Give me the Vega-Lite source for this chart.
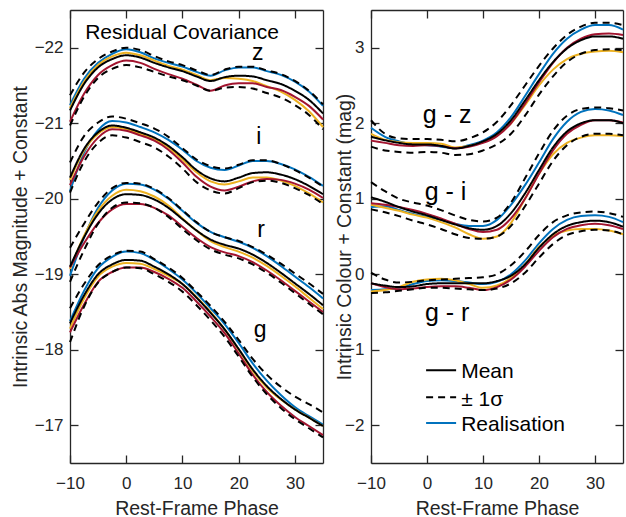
{
  "$schema": "https://vega.github.io/schema/vega-lite/v6.json",
  "padding": {"left": 10, "top": 9, "right": 0, "bottom": 0},
  "datasets": {
    "L": [
      {"band":"z","phase":-10,"mean":-21.17,"up":-21.37,"lo":-20.97,"blue":-21.24,"yellow":-21.20,"red":-21.02},
      {"band":"z","phase":-7.5,"mean":-21.52,"up":-21.67,"lo":-21.35,"blue":-21.59,"yellow":-21.55,"red":-21.39},
      {"band":"z","phase":-5,"mean":-21.74,"up":-21.85,"lo":-21.60,"blue":-21.80,"yellow":-21.77,"red":-21.64},
      {"band":"z","phase":-2.5,"mean":-21.85,"up":-21.95,"lo":-21.72,"blue":-21.92,"yellow":-21.885,"red":-21.77},
      {"band":"z","phase":0,"mean":-21.90,"up":-22.00,"lo":-21.77,"blue":-21.98,"yellow":-21.935,"red":-21.83},
      {"band":"z","phase":2.5,"mean":-21.87,"up":-21.97,"lo":-21.74,"blue":-21.94,"yellow":-21.90,"red":-21.80},
      {"band":"z","phase":5,"mean":-21.80,"up":-21.89,"lo":-21.68,"blue":-21.86,"yellow":-21.83,"red":-21.72},
      {"band":"z","phase":7.5,"mean":-21.74,"up":-21.82,"lo":-21.62,"blue":-21.80,"yellow":-21.76,"red":-21.65},
      {"band":"z","phase":10,"mean":-21.69,"up":-21.77,"lo":-21.57,"blue":-21.75,"yellow":-21.71,"red":-21.59},
      {"band":"z","phase":12.5,"mean":-21.62,"up":-21.70,"lo":-21.50,"blue":-21.68,"yellow":-21.64,"red":-21.51},
      {"band":"z","phase":15,"mean":-21.56,"up":-21.64,"lo":-21.43,"blue":-21.63,"yellow":-21.57,"red":-21.43},
      {"band":"z","phase":17.5,"mean":-21.61,"up":-21.71,"lo":-21.47,"blue":-21.70,"yellow":-21.60,"red":-21.50},
      {"band":"z","phase":20,"mean":-21.63,"up":-21.75,"lo":-21.48,"blue":-21.74,"yellow":-21.59,"red":-21.53},
      {"band":"z","phase":22.5,"mean":-21.62,"up":-21.75,"lo":-21.46,"blue":-21.74,"yellow":-21.56,"red":-21.53},
      {"band":"z","phase":25,"mean":-21.57,"up":-21.70,"lo":-21.40,"blue":-21.69,"yellow":-21.49,"red":-21.48},
      {"band":"z","phase":27.5,"mean":-21.52,"up":-21.65,"lo":-21.34,"blue":-21.64,"yellow":-21.42,"red":-21.44},
      {"band":"z","phase":30,"mean":-21.43,"up":-21.56,"lo":-21.24,"blue":-21.55,"yellow":-21.31,"red":-21.35},
      {"band":"z","phase":32.5,"mean":-21.31,"up":-21.43,"lo":-21.11,"blue":-21.42,"yellow":-21.16,"red":-21.23},
      {"band":"z","phase":35,"mean":-21.13,"up":-21.25,"lo":-20.92,"blue":-21.23,"yellow":-20.95,"red":-21.05},

      {"band":"i","phase":-10,"mean":-20.28,"up":-20.48,"lo":-20.08,"blue":-20.10,"yellow":-20.25,"red":-20.18},
      {"band":"i","phase":-7.5,"mean":-20.66,"up":-20.83,"lo":-20.49,"blue":-20.61,"yellow":-20.64,"red":-20.56},
      {"band":"i","phase":-5,"mean":-20.88,"up":-21.01,"lo":-20.74,"blue":-20.91,"yellow":-20.86,"red":-20.81},
      {"band":"i","phase":-2.5,"mean":-20.97,"up":-21.09,"lo":-20.84,"blue":-21.03,"yellow":-20.95,"red":-20.92},
      {"band":"i","phase":0,"mean":-20.94,"up":-21.06,"lo":-20.81,"blue":-21.01,"yellow":-20.92,"red":-20.90},
      {"band":"i","phase":2.5,"mean":-20.88,"up":-21.00,"lo":-20.75,"blue":-20.95,"yellow":-20.86,"red":-20.84},
      {"band":"i","phase":5,"mean":-20.81,"up":-20.93,"lo":-20.68,"blue":-20.88,"yellow":-20.79,"red":-20.77},
      {"band":"i","phase":7.5,"mean":-20.70,"up":-20.82,"lo":-20.56,"blue":-20.78,"yellow":-20.68,"red":-20.65},
      {"band":"i","phase":10,"mean":-20.55,"up":-20.67,"lo":-20.40,"blue":-20.65,"yellow":-20.52,"red":-20.48},
      {"band":"i","phase":12.5,"mean":-20.38,"up":-20.52,"lo":-20.22,"blue":-20.50,"yellow":-20.35,"red":-20.29},
      {"band":"i","phase":15,"mean":-20.27,"up":-20.43,"lo":-20.11,"blue":-20.41,"yellow":-20.23,"red":-20.16},
      {"band":"i","phase":17.5,"mean":-20.23,"up":-20.40,"lo":-20.07,"blue":-20.38,"yellow":-20.19,"red":-20.11},
      {"band":"i","phase":20,"mean":-20.28,"up":-20.45,"lo":-20.14,"blue":-20.44,"yellow":-20.23,"red":-20.16},
      {"band":"i","phase":22.5,"mean":-20.34,"up":-20.51,"lo":-20.22,"blue":-20.50,"yellow":-20.28,"red":-20.23},
      {"band":"i","phase":25,"mean":-20.35,"up":-20.51,"lo":-20.24,"blue":-20.50,"yellow":-20.28,"red":-20.26},
      {"band":"i","phase":27.5,"mean":-20.32,"up":-20.46,"lo":-20.21,"blue":-20.46,"yellow":-20.24,"red":-20.25},
      {"band":"i","phase":30,"mean":-20.26,"up":-20.38,"lo":-20.14,"blue":-20.39,"yellow":-20.17,"red":-20.20},
      {"band":"i","phase":32.5,"mean":-20.17,"up":-20.28,"lo":-20.05,"blue":-20.29,"yellow":-20.07,"red":-20.12},
      {"band":"i","phase":35,"mean":-20.06,"up":-20.16,"lo":-19.93,"blue":-20.17,"yellow":-19.95,"red":-20.01},

      {"band":"r","phase":-10,"mean":-19.10,"up":-19.35,"lo":-18.90,"blue":-18.98,"yellow":-19.07,"red":-19.09},
      {"band":"r","phase":-7.5,"mean":-19.49,"up":-19.67,"lo":-19.32,"blue":-19.49,"yellow":-19.51,"red":-19.41},
      {"band":"r","phase":-5,"mean":-19.80,"up":-19.95,"lo":-19.67,"blue":-19.88,"yellow":-19.84,"red":-19.68},
      {"band":"r","phase":-2.5,"mean":-19.99,"up":-20.14,"lo":-19.88,"blue":-20.11,"yellow":-20.04,"red":-19.86},
      {"band":"r","phase":0,"mean":-20.06,"up":-20.21,"lo":-19.95,"blue":-20.20,"yellow":-20.12,"red":-19.93},
      {"band":"r","phase":2.5,"mean":-20.05,"up":-20.20,"lo":-19.94,"blue":-20.19,"yellow":-20.10,"red":-19.93},
      {"band":"r","phase":5,"mean":-19.99,"up":-20.13,"lo":-19.88,"blue":-20.12,"yellow":-20.03,"red":-19.88},
      {"band":"r","phase":7.5,"mean":-19.88,"up":-20.01,"lo":-19.76,"blue":-20.00,"yellow":-19.91,"red":-19.78},
      {"band":"r","phase":10,"mean":-19.73,"up":-19.85,"lo":-19.60,"blue":-19.84,"yellow":-19.74,"red":-19.63},
      {"band":"r","phase":12.5,"mean":-19.58,"up":-19.69,"lo":-19.45,"blue":-19.68,"yellow":-19.58,"red":-19.48},
      {"band":"r","phase":15,"mean":-19.46,"up":-19.56,"lo":-19.33,"blue":-19.56,"yellow":-19.44,"red":-19.36},
      {"band":"r","phase":17.5,"mean":-19.39,"up":-19.49,"lo":-19.26,"blue":-19.49,"yellow":-19.36,"red":-19.29},
      {"band":"r","phase":20,"mean":-19.34,"up":-19.44,"lo":-19.21,"blue":-19.43,"yellow":-19.30,"red":-19.24},
      {"band":"r","phase":22.5,"mean":-19.26,"up":-19.36,"lo":-19.13,"blue":-19.35,"yellow":-19.22,"red":-19.16},
      {"band":"r","phase":25,"mean":-19.15,"up":-19.26,"lo":-19.02,"blue":-19.24,"yellow":-19.11,"red":-19.05},
      {"band":"r","phase":27.5,"mean":-19.02,"up":-19.14,"lo":-18.89,"blue":-19.11,"yellow":-18.98,"red":-18.92},
      {"band":"r","phase":30,"mean":-18.88,"up":-19.01,"lo":-18.75,"blue":-18.97,"yellow":-18.84,"red":-18.78},
      {"band":"r","phase":32.5,"mean":-18.74,"up":-18.88,"lo":-18.61,"blue":-18.83,"yellow":-18.69,"red":-18.64},
      {"band":"r","phase":35,"mean":-18.59,"up":-18.74,"lo":-18.47,"blue":-18.68,"yellow":-18.54,"red":-18.50},

      {"band":"g","phase":-10,"mean":-18.35,"up":-18.55,"lo":-18.10,"blue":-18.38,"yellow":-18.28,"red":-18.23},
      {"band":"g","phase":-7.5,"mean":-18.72,"up":-18.87,"lo":-18.57,"blue":-18.78,"yellow":-18.68,"red":-18.60},
      {"band":"g","phase":-5,"mean":-19.00,"up":-19.12,"lo":-18.89,"blue":-19.08,"yellow":-18.97,"red":-18.90},
      {"band":"g","phase":-2.5,"mean":-19.13,"up":-19.25,"lo":-19.03,"blue":-19.23,"yellow":-19.10,"red":-19.03},
      {"band":"g","phase":0,"mean":-19.19,"up":-19.31,"lo":-19.09,"blue":-19.30,"yellow":-19.15,"red":-19.09},
      {"band":"g","phase":2.5,"mean":-19.18,"up":-19.30,"lo":-19.08,"blue":-19.28,"yellow":-19.14,"red":-19.09},
      {"band":"g","phase":5,"mean":-19.10,"up":-19.20,"lo":-19.00,"blue":-19.19,"yellow":-19.07,"red":-19.03},
      {"band":"g","phase":7.5,"mean":-19.00,"up":-19.09,"lo":-18.90,"blue":-19.07,"yellow":-18.98,"red":-18.94},
      {"band":"g","phase":10,"mean":-18.87,"up":-18.95,"lo":-18.77,"blue":-18.93,"yellow":-18.87,"red":-18.82},
      {"band":"g","phase":12.5,"mean":-18.69,"up":-18.77,"lo":-18.59,"blue":-18.75,"yellow":-18.70,"red":-18.64},
      {"band":"g","phase":15,"mean":-18.49,"up":-18.58,"lo":-18.39,"blue":-18.55,"yellow":-18.50,"red":-18.44},
      {"band":"g","phase":17.5,"mean":-18.27,"up":-18.37,"lo":-18.17,"blue":-18.34,"yellow":-18.27,"red":-18.22},
      {"band":"g","phase":20,"mean":-18.01,"up":-18.13,"lo":-17.91,"blue":-18.09,"yellow":-18.00,"red":-17.95},
      {"band":"g","phase":22.5,"mean":-17.74,"up":-17.88,"lo":-17.64,"blue":-17.82,"yellow":-17.72,"red":-17.67},
      {"band":"g","phase":25,"mean":-17.52,"up":-17.67,"lo":-17.41,"blue":-17.59,"yellow":-17.50,"red":-17.44},
      {"band":"g","phase":27.5,"mean":-17.35,"up":-17.51,"lo":-17.23,"blue":-17.40,"yellow":-17.34,"red":-17.26},
      {"band":"g","phase":30,"mean":-17.21,"up":-17.38,"lo":-17.08,"blue":-17.24,"yellow":-17.21,"red":-17.11},
      {"band":"g","phase":32.5,"mean":-17.10,"up":-17.28,"lo":-16.96,"blue":-17.12,"yellow":-17.10,"red":-16.99},
      {"band":"g","phase":35,"mean":-16.99,"up":-17.17,"lo":-16.84,"blue":-17.01,"yellow":-16.99,"red":-16.87}
    ],
    "R": [
      {"band":"gz","phase":-10,"mean":1.82,"up":2.04,"lo":1.69,"blue":1.94,"yellow":1.86,"red":1.77},
      {"band":"gz","phase":-7.5,"mean":1.775,"up":1.86,"lo":1.64,"blue":1.82,"yellow":1.78,"red":1.74},
      {"band":"gz","phase":-5,"mean":1.74,"up":1.80,"lo":1.62,"blue":1.76,"yellow":1.75,"red":1.71},
      {"band":"gz","phase":-2.5,"mean":1.72,"up":1.79,"lo":1.61,"blue":1.72,"yellow":1.74,"red":1.70},
      {"band":"gz","phase":0,"mean":1.72,"up":1.79,"lo":1.62,"blue":1.71,"yellow":1.74,"red":1.71},
      {"band":"gz","phase":2.5,"mean":1.70,"up":1.78,"lo":1.61,"blue":1.69,"yellow":1.73,"red":1.70},
      {"band":"gz","phase":5,"mean":1.665,"up":1.76,"lo":1.58,"blue":1.67,"yellow":1.68,"red":1.67},
      {"band":"gz","phase":7.5,"mean":1.70,"up":1.80,"lo":1.59,"blue":1.71,"yellow":1.70,"red":1.69},
      {"band":"gz","phase":10,"mean":1.76,"up":1.88,"lo":1.64,"blue":1.77,"yellow":1.75,"red":1.74},
      {"band":"gz","phase":12.5,"mean":1.86,"up":2.02,"lo":1.72,"blue":1.88,"yellow":1.84,"red":1.83},
      {"band":"gz","phase":15,"mean":2.04,"up":2.24,"lo":1.86,"blue":2.08,"yellow":2.00,"red":2.00},
      {"band":"gz","phase":17.5,"mean":2.30,"up":2.50,"lo":2.10,"blue":2.36,"yellow":2.24,"red":2.26},
      {"band":"gz","phase":20,"mean":2.57,"up":2.76,"lo":2.38,"blue":2.65,"yellow":2.50,"red":2.54},
      {"band":"gz","phase":22.5,"mean":2.81,"up":2.99,"lo":2.62,"blue":2.92,"yellow":2.71,"red":2.80},
      {"band":"gz","phase":25,"mean":2.99,"up":3.17,"lo":2.81,"blue":3.12,"yellow":2.85,"red":3.00},
      {"band":"gz","phase":27.5,"mean":3.10,"up":3.28,"lo":2.92,"blue":3.24,"yellow":2.92,"red":3.12},
      {"band":"gz","phase":30,"mean":3.15,"up":3.33,"lo":2.97,"blue":3.30,"yellow":2.95,"red":3.18},
      {"band":"gz","phase":32.5,"mean":3.15,"up":3.33,"lo":2.98,"blue":3.30,"yellow":2.96,"red":3.19},
      {"band":"gz","phase":35,"mean":3.12,"up":3.30,"lo":2.97,"blue":3.24,"yellow":2.94,"red":3.17},

      {"band":"gi","phase":-10,"mean":1.02,"up":1.22,"lo":0.86,"blue":0.89,"yellow":0.92,"red":0.94},
      {"band":"gi","phase":-7.5,"mean":0.96,"up":1.10,"lo":0.82,"blue":0.90,"yellow":0.88,"red":0.92},
      {"band":"gi","phase":-5,"mean":0.89,"up":1.00,"lo":0.77,"blue":0.85,"yellow":0.84,"red":0.89},
      {"band":"gi","phase":-2.5,"mean":0.83,"up":0.95,"lo":0.71,"blue":0.80,"yellow":0.79,"red":0.85},
      {"band":"gi","phase":0,"mean":0.78,"up":0.91,"lo":0.66,"blue":0.76,"yellow":0.75,"red":0.80},
      {"band":"gi","phase":2.5,"mean":0.72,"up":0.85,"lo":0.60,"blue":0.72,"yellow":0.69,"red":0.74},
      {"band":"gi","phase":5,"mean":0.66,"up":0.78,"lo":0.53,"blue":0.67,"yellow":0.62,"red":0.67},
      {"band":"gi","phase":7.5,"mean":0.61,"up":0.72,"lo":0.48,"blue":0.64,"yellow":0.53,"red":0.60},
      {"band":"gi","phase":10,"mean":0.59,"up":0.70,"lo":0.47,"blue":0.64,"yellow":0.47,"red":0.56},
      {"band":"gi","phase":12.5,"mean":0.64,"up":0.75,"lo":0.50,"blue":0.72,"yellow":0.50,"red":0.59},
      {"band":"gi","phase":15,"mean":0.81,"up":0.95,"lo":0.64,"blue":0.92,"yellow":0.68,"red":0.74},
      {"band":"gi","phase":17.5,"mean":1.07,"up":1.27,"lo":0.90,"blue":1.18,"yellow":1.00,"red":1.00},
      {"band":"gi","phase":20,"mean":1.38,"up":1.60,"lo":1.20,"blue":1.48,"yellow":1.33,"red":1.33},
      {"band":"gi","phase":22.5,"mean":1.68,"up":1.90,"lo":1.50,"blue":1.79,"yellow":1.59,"red":1.64},
      {"band":"gi","phase":25,"mean":1.89,"up":2.10,"lo":1.71,"blue":2.02,"yellow":1.74,"red":1.86},
      {"band":"gi","phase":27.5,"mean":2.00,"up":2.19,"lo":1.82,"blue":2.15,"yellow":1.81,"red":1.98},
      {"band":"gi","phase":30,"mean":2.04,"up":2.21,"lo":1.86,"blue":2.19,"yellow":1.84,"red":2.04},
      {"band":"gi","phase":32.5,"mean":2.04,"up":2.20,"lo":1.86,"blue":2.17,"yellow":1.84,"red":2.04},
      {"band":"gi","phase":35,"mean":2.00,"up":2.17,"lo":1.84,"blue":2.11,"yellow":1.83,"red":2.01},

      {"band":"gr","phase":-10,"mean":-0.12,"up":0.02,"lo":-0.25,"blue":-0.21,"yellow":-0.23,"red":-0.12},
      {"band":"gr","phase":-7.5,"mean":-0.15,"up":-0.07,"lo":-0.24,"blue":-0.20,"yellow":-0.21,"red":-0.17},
      {"band":"gr","phase":-5,"mean":-0.17,"up":-0.11,"lo":-0.22,"blue":-0.18,"yellow":-0.17,"red":-0.20},
      {"band":"gr","phase":-2.5,"mean":-0.16,"up":-0.10,"lo":-0.20,"blue":-0.13,"yellow":-0.10,"red":-0.19},
      {"band":"gr","phase":0,"mean":-0.13,"up":-0.08,"lo":-0.18,"blue":-0.09,"yellow":-0.07,"red":-0.17},
      {"band":"gr","phase":2.5,"mean":-0.12,"up":-0.07,"lo":-0.18,"blue":-0.08,"yellow":-0.06,"red":-0.16},
      {"band":"gr","phase":5,"mean":-0.12,"up":-0.06,"lo":-0.19,"blue":-0.09,"yellow":-0.08,"red":-0.16},
      {"band":"gr","phase":7.5,"mean":-0.12,"up":-0.05,"lo":-0.20,"blue":-0.11,"yellow":-0.13,"red":-0.18},
      {"band":"gr","phase":10,"mean":-0.12,"up":-0.04,"lo":-0.21,"blue":-0.13,"yellow":-0.18,"red":-0.21},
      {"band":"gr","phase":12.5,"mean":-0.09,"up":0.00,"lo":-0.19,"blue":-0.10,"yellow":-0.15,"red":-0.17},
      {"band":"gr","phase":15,"mean":-0.02,"up":0.12,"lo":-0.12,"blue":0.00,"yellow":-0.05,"red":-0.07},
      {"band":"gr","phase":17.5,"mean":0.13,"up":0.30,"lo":0.02,"blue":0.18,"yellow":0.13,"red":0.10},
      {"band":"gr","phase":20,"mean":0.35,"up":0.52,"lo":0.22,"blue":0.41,"yellow":0.36,"red":0.31},
      {"band":"gr","phase":22.5,"mean":0.53,"up":0.69,"lo":0.40,"blue":0.60,"yellow":0.51,"red":0.49},
      {"band":"gr","phase":25,"mean":0.64,"up":0.78,"lo":0.52,"blue":0.72,"yellow":0.58,"red":0.60},
      {"band":"gr","phase":27.5,"mean":0.69,"up":0.82,"lo":0.57,"blue":0.77,"yellow":0.60,"red":0.65},
      {"band":"gr","phase":30,"mean":0.71,"up":0.83,"lo":0.59,"blue":0.78,"yellow":0.60,"red":0.67},
      {"band":"gr","phase":32.5,"mean":0.69,"up":0.81,"lo":0.58,"blue":0.76,"yellow":0.58,"red":0.65},
      {"band":"gr","phase":35,"mean":0.63,"up":0.76,"lo":0.53,"blue":0.69,"yellow":0.53,"red":0.60}
    ]
  },
  "hconcat": [
    {
      "width": 253,
      "height": 453,
      "layer": [
        {
          "data": {"name": "L"},
          "transform": [{"fold": ["blue", "yellow", "red"], "as": ["series", "val"]}],
          "mark": {"type": "line", "interpolate": "monotone", "strokeWidth": 2},
          "encoding": {
            "x": {"field": "phase", "type": "quantitative", "scale": {"domain": [-10, 35], "nice": false, "zero": false},
                  "axis": {"orient": "bottom", "values": [-10, 0, 10, 20, 30], "title": "Rest-Frame Phase", "labelPadding": 20, "titleY": 51, "titleBaseline": "alphabetic"}},
            "y": {"field": "val", "type": "quantitative", "scale": {"domain": [-22.5, -16.5], "reverse": true, "nice": false, "zero": false},
                  "axis": {"orient": "left", "values": [-22, -21, -20, -19, -18, -17], "title": "Intrinsic Abs Magnitude + Constant", "labelPadding": 15, "titleX": -44, "titleBaseline": "alphabetic"}},
            "color": {"field": "series", "type": "nominal", "legend": null,
                      "scale": {"domain": ["mean", "up", "lo", "blue", "yellow", "red"], "range": ["#000000", "#000000", "#000000", "#0072BD", "#EDB120", "#A2142F"]}},
            "detail": {"field": "band"}
          }
        },
        {
          "data": {"name": "L"},
          "transform": [{"fold": ["mean", "up", "lo"], "as": ["series", "val"]}],
          "mark": {"type": "line", "interpolate": "monotone", "strokeWidth": 2},
          "encoding": {
            "x": {"field": "phase", "type": "quantitative", "axis": null},
            "y": {"field": "val", "type": "quantitative", "axis": null},
            "color": {"field": "series", "type": "nominal", "legend": null},
            "strokeDash": {"field": "series", "type": "nominal", "legend": null,
                           "scale": {"domain": ["mean", "up", "lo", "blue", "yellow", "red"], "range": [[1, 0], [7, 5], [7, 5], [1, 0], [1, 0], [1, 0]]}},
            "detail": {"field": "band"}
          }
        },
        {
          "data": {"values": [{"label": "Residual Covariance", "phase": -7.3, "val": -22.12}]},
          "mark": {"type": "text", "align": "left", "baseline": "alphabetic", "fontSize": 21, "font": "Liberation Sans", "color": "#000000"},
          "encoding": {
            "x": {"field": "phase", "type": "quantitative", "axis": {"orient": "top", "labels": false, "title": null, "values": [-10, 0, 10, 20, 30]}},
            "y": {"field": "val", "type": "quantitative", "axis": {"orient": "right", "labels": false, "title": null, "values": [-22, -21, -20, -19, -18, -17]}},
            "text": {"field": "label"}
          }
        },
        {
          "data": {"values": [
            {"label": "z", "phase": 23.4, "val": -21.84},
            {"label": "i", "phase": 23.6, "val": -20.72},
            {"label": "r", "phase": 24, "val": -19.49},
            {"label": "g", "phase": 23.8, "val": -18.17}
          ]},
          "mark": {"type": "text", "align": "center", "baseline": "alphabetic", "fontSize": 23, "font": "Liberation Sans", "color": "#000000"},
          "encoding": {
            "x": {"field": "phase", "type": "quantitative", "axis": null},
            "y": {"field": "val", "type": "quantitative", "axis": null},
            "text": {"field": "label"}
          }
        }
      ],
      "resolve": {"axis": {"x": "independent", "y": "independent"}}
    },
    {
      "width": 252,
      "height": 453,
      "layer": [
        {
          "data": {"name": "R"},
          "transform": [{"fold": ["blue", "yellow", "red"], "as": ["series", "val"]}],
          "mark": {"type": "line", "interpolate": "monotone", "strokeWidth": 2},
          "encoding": {
            "x": {"field": "phase", "type": "quantitative", "scale": {"domain": [-10, 35], "nice": false, "zero": false},
                  "axis": {"orient": "bottom", "values": [-10, 0, 10, 20, 30], "title": "Rest-Frame Phase", "labelPadding": 20, "titleY": 51, "titleBaseline": "alphabetic"}},
            "y": {"field": "val", "type": "quantitative", "scale": {"domain": [-2.5, 3.5], "nice": false, "zero": false},
                  "axis": {"orient": "left", "values": [-2, -1, 0, 1, 2, 3], "title": "Intrinsic Colour + Constant (mag)", "labelPadding": 15, "titleX": -21, "titleBaseline": "alphabetic"}},
            "color": {"field": "series", "type": "nominal", "legend": null,
                      "scale": {"domain": ["mean", "up", "lo", "blue", "yellow", "red"], "range": ["#000000", "#000000", "#000000", "#0072BD", "#EDB120", "#A2142F"]}},
            "detail": {"field": "band"}
          }
        },
        {
          "data": {"name": "R"},
          "transform": [{"fold": ["mean", "up", "lo"], "as": ["series", "val"]}],
          "mark": {"type": "line", "interpolate": "monotone", "strokeWidth": 2},
          "encoding": {
            "x": {"field": "phase", "type": "quantitative", "axis": null},
            "y": {"field": "val", "type": "quantitative", "axis": null},
            "color": {"field": "series", "type": "nominal", "legend": null},
            "strokeDash": {"field": "series", "type": "nominal", "legend": null,
                           "scale": {"domain": ["mean", "up", "lo", "blue", "yellow", "red"], "range": [[1, 0], [7, 5], [7, 5], [1, 0], [1, 0], [1, 0]]}},
            "detail": {"field": "band"}
          }
        },
        {
          "data": {"values": [
            {"label": "g - z", "phase": 3.6, "val": 2.0},
            {"label": "g - i", "phase": 3.3, "val": 0.99},
            {"label": "g - r", "phase": 3.6, "val": -0.62}
          ]},
          "mark": {"type": "text", "align": "center", "baseline": "alphabetic", "fontSize": 25, "font": "Liberation Sans", "color": "#000000"},
          "encoding": {
            "x": {"field": "phase", "type": "quantitative", "axis": {"orient": "top", "labels": false, "title": null, "values": [-10, 0, 10, 20, 30]}},
            "y": {"field": "val", "type": "quantitative", "axis": {"orient": "right", "labels": false, "title": null, "values": [-2, -1, 0, 1, 2, 3]}},
            "text": {"field": "label"}
          }
        },
        {
          "data": {"values": [
            {"series": "mean", "x1": -0.16, "x2": 5.2, "val": -1.27},
            {"series": "up", "x1": -0.16, "x2": 5.2, "val": -1.63},
            {"series": "blue", "x1": -0.16, "x2": 5.2, "val": -1.97}
          ]},
          "mark": {"type": "rule", "strokeWidth": 2},
          "encoding": {
            "x": {"field": "x1", "type": "quantitative", "axis": null},
            "x2": {"field": "x2"},
            "y": {"field": "val", "type": "quantitative", "axis": null},
            "color": {"field": "series", "type": "nominal", "legend": null},
            "strokeDash": {"field": "series", "type": "nominal", "legend": null}
          }
        },
        {
          "data": {"values": [
            {"label": "Mean", "phase": 6.1, "val": -1.38},
            {"label": "± 1σ", "phase": 6.1, "val": -1.74},
            {"label": "Realisation", "phase": 6.1, "val": -2.07}
          ]},
          "mark": {"type": "text", "align": "left", "baseline": "alphabetic", "fontSize": 21, "font": "Liberation Sans", "color": "#000000"},
          "encoding": {
            "x": {"field": "phase", "type": "quantitative", "axis": null},
            "y": {"field": "val", "type": "quantitative", "axis": null},
            "text": {"field": "label"}
          }
        }
      ],
      "resolve": {"axis": {"x": "independent", "y": "independent"}}
    }
  ],
  "spacing": 48,
  "bounds": "flush",
  "config": {
    "view": {"stroke": null},
    "axis": {
      "grid": false,
      "domainColor": "#262626",
      "domainWidth": 1.3,
      "tickColor": "#262626",
      "tickWidth": 1.3,
      "tickSize": -8,
      "labelColor": "#262626",
      "titleColor": "#262626",
      "labelFont": "Liberation Sans",
      "titleFont": "Liberation Sans",
      "labelFontSize": 17,
      "titleFontSize": 19.5,
      "titleFontWeight": "normal",
      "labelFlush": false,
      "labelOverlap": false
    }
  }
}
